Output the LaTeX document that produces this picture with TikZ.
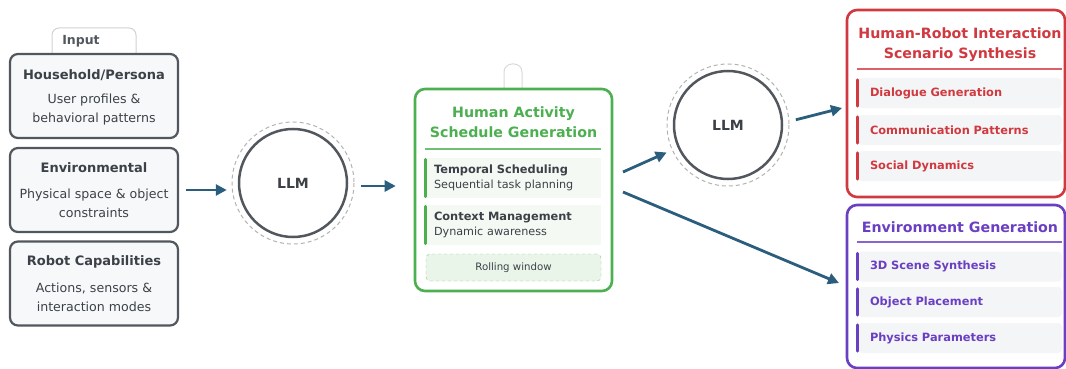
\documentclass[tikz,border=0pt]{standalone}
\usepackage{fontspec}
\setmainfont{DejaVu Sans}
\usetikzlibrary{arrows.meta}

\definecolor{grisbord}{HTML}{52575E}
\definecolor{fondgris}{HTML}{F7F8FA}
\definecolor{textegris}{HTML}{3C4147}
\definecolor{bleufleche}{HTML}{2B5D7D}
\definecolor{vert}{HTML}{4CAF50}
\definecolor{fondvert}{HTML}{F4F9F4}
\definecolor{rouge}{HTML}{D0393F}
\definecolor{violet}{HTML}{6A3FC2}
\definecolor{fonditem}{HTML}{F4F5F7}

\tikzset{
  entree/.style={draw=grisbord, line width=2.2pt, fill=fondgris, rounded corners=8pt,
    minimum width=168pt, minimum height=84pt},
  titre/.style={font=\fontsize{13}{15}\selectfont\bfseries, text=textegris},
  corps/.style={font=\fontsize{12.6}{19}\selectfont, text=textegris, align=center},
  llm/.style={circle, draw=grisbord, line width=2.5pt, minimum size=108pt,
    font=\fontsize{14}{16}\selectfont\bfseries, text=textegris},
  halo/.style={draw=gray!60, line width=1pt, dash pattern=on 4pt off 3pt},
  fleche/.style={draw=bleufleche, line width=2.8pt, -{Triangle[length=11pt,width=11pt]}},
  cadre/.style={draw=#1, line width=2.6pt, fill=white, rounded corners=10pt},
  grandtitre/.style={font=\fontsize{14.2}{20}\selectfont\bfseries, text=#1, align=center},
  item/.style={fill=fonditem, rounded corners=4pt, minimum width=204pt, minimum height=30pt,
    text width=180pt, inner xsep=12pt, align=left, text=#1,
    font=\fontsize{11.4}{13}\selectfont\bfseries},
  barre/.style={draw=#1, line width=3pt, line cap=round}
}

\begin{document}
\begin{tikzpicture}[x=1pt,y=-1pt]
    \useasboundingbox (0,0) rectangle (1066,369);

    % Onglet Input
    \draw[gray!35, line width=1pt, fill=white, rounded corners=7pt]
        (52,56) -- (52,28) -- (136,28) -- (136,56);
    \node[font=\fontsize{12.5}{14}\selectfont\bfseries, text=grisbord] (input) at (81,41) {Input};

    % Les trois entrées
    \node[entree] (persona) at (94,96) {};
    \node[titre] (tpersona) at (94,75) {Household/Persona};
    \node[corps] (cpersona) at (94,110) {User profiles \&\\behavioral patterns};

    \node[entree] (env) at (94,190) {};
    \node[titre] (tenv) at (94,168) {Environmental};
    \node[corps] (cenv) at (94,203) {Physical space \& object\\constraints};

    \node[entree] (robot) at (94,283.5) {};
    \node[titre] (trobot) at (94,262) {Robot Capabilities};
    \node[corps] (crobot) at (94,297) {Actions, sensors \&\\interaction modes};

    % Premier LLM
    \node[llm] (llm1) at (293,183) {LLM};
    \draw[halo] (llm1.center) circle (61);

    % Bloc emploi du temps
    \draw[gray!30, line width=1pt, rounded corners=8pt]
        (504,90) -- (504,64) -- (522,64) -- (522,90);
    \node[cadre=vert, minimum width=197pt, minimum height=202pt] (sched) at (513.5,190) {};
    \node[grandtitre=vert] (tsched) at (513.5,122) {Human Activity\\Schedule Generation};
    \draw[vert!80, line width=1.2pt] (425,149) -- (601,149);
    \foreach \y/\a/\b [count=\i] in {178/Temporal Scheduling/Sequential task planning,
                                     225/Context Management/Dynamic awareness} {
        \node[fill=fondvert, minimum width=175pt, minimum height=40pt, text width=159pt,
              inner xsep=8pt, align=left, text=textegris,
              font=\fontsize{11.2}{15}\selectfont] (sitem\i) at (513.5,\y)
              {{\fontsize{11.4}{15}\selectfont\bfseries \a}\\\b};
        \draw[barre=vert] ([yshift=-1.5pt]sitem\i.north west) -- ([yshift=1.5pt]sitem\i.south west);
    }
    \node[draw=vert!70, dashed, fill=vert!12, rounded corners=4pt, minimum width=175pt,
          minimum height=27pt, text=textegris, font=\fontsize{10.2}{12}\selectfont]
          (rolling) at (513.5,267.5) {Rolling window};

    % Second LLM
    \node[llm] (llm2) at (728,125) {LLM};
    \draw[halo] (llm2.center) circle (61);

    % Bloc interaction humain-robot
    \draw[gray!30, line width=1pt] (950,-1) arc (180:360:10);
    \node[cadre=rouge, minimum width=218pt, minimum height=187pt] (hri) at (956,103.5) {};
    \node[grandtitre=rouge] (thri) at (960,45) {Human-Robot Interaction\\Scenario Synthesis};
    \draw[rouge!80, line width=1.2pt] (857,69) -- (1062,69);
    \foreach \y/\t [count=\i] in {93/Dialogue Generation, 130/Communication Patterns,
                                  166/Social Dynamics} {
        \node[item=rouge] (hitem\i) at (960,\y) {\t};
        \draw[barre=rouge] ([yshift=-2pt]hitem\i.north west) -- ([yshift=2pt]hitem\i.south west);
    }

    % Bloc environnement
    \node[cadre=violet, minimum width=218pt, minimum height=163pt] (envgen) at (956,286.5) {};
    \node[grandtitre=violet] (tenvgen) at (960,227) {Environment Generation};
    \draw[violet!80, line width=1.2pt] (857,242) -- (1062,242);
    \foreach \y/\t [count=\i] in {266.5/3D Scene Synthesis, 302/Object Placement,
                                  338/Physics Parameters} {
        \node[item=violet] (eitem\i) at (960,\y) {\t};
        \draw[barre=violet] ([yshift=-2pt]eitem\i.north west) -- ([yshift=2pt]eitem\i.south west);
    }

    % Flèches
    \coordinate (s1) at (623,172);
    \coordinate (s2) at (623,192);
    \coordinate (h1) at (842,108);
    \coordinate (e1) at (839,283);
    \draw[fleche, shorten <=7pt, shorten >=11pt] (env.east) -- (env.east -| llm1.west);
    \draw[fleche, shorten <=13pt, shorten >=18pt] ([yshift=-3pt]llm1.east) -- ([yshift=-3pt]llm1.east -| sched.west);
    \draw[fleche, shorten >=12pt] (s1) -- (llm2);
    \draw[fleche, shorten <=13pt] ([yshift=2pt]llm2.east) -- (h1);
    \draw[fleche] (s2) -- (e1);
\end{tikzpicture}
\end{document}
